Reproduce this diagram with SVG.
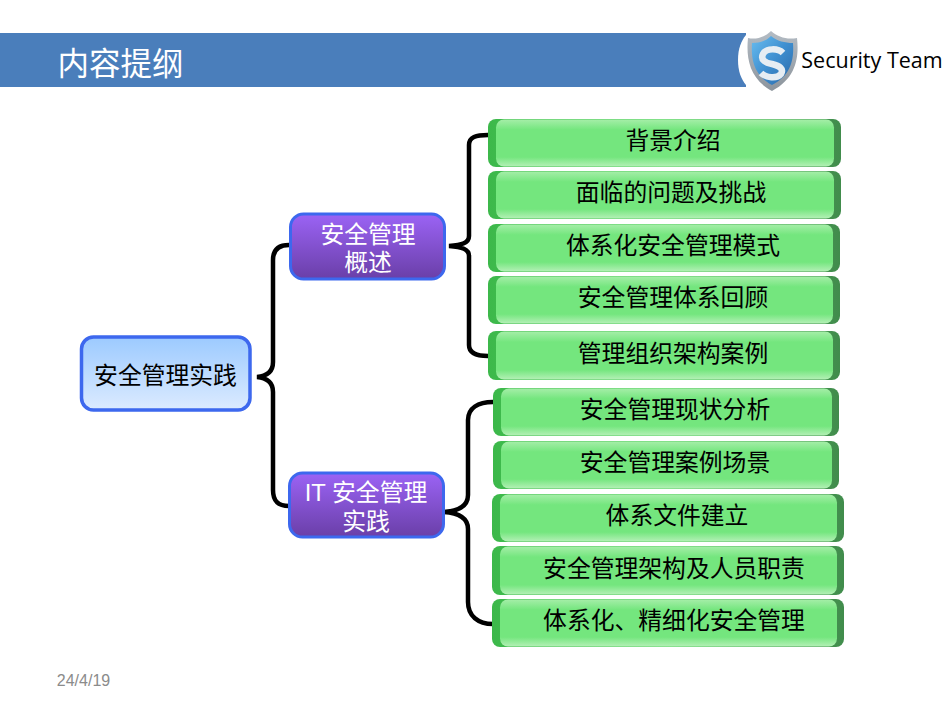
<svg xmlns="http://www.w3.org/2000/svg" width="950" height="713" viewBox="0 0 950 713">
<style>
text{font-family:"Liberation Sans","Noto Sans CJK SC",sans-serif;text-anchor:middle}
.t{font-size:23.800px;fill:#000}
.w{font-size:23.800px;fill:#fff}
.c{fill:none;stroke:#000;stroke-width:4.500;stroke-linecap:butt}
.body{fill:url(#gm)}
</style>
<defs>
<linearGradient id="root" x1="0" y1="0" x2="0" y2="1"><stop offset="0" stop-color="#9ccaff"/><stop offset="1" stop-color="#dcebff"/></linearGradient>
<linearGradient id="pur" x1="0" y1="0" x2="0" y2="1"><stop offset="0" stop-color="#9b63f5"/><stop offset="1" stop-color="#6a3fa8"/></linearGradient>
<linearGradient id="gm" x1="0" y1="0" x2="0" y2="1"><stop offset="0" stop-color="#a5eea8"/><stop offset=".22" stop-color="#74e67e"/><stop offset=".8" stop-color="#74e67e"/><stop offset="1" stop-color="#b4f0b6"/></linearGradient>
<linearGradient id="edge" x1="0" y1="0" x2="1" y2="0"><stop offset="0" stop-color="#3cb84a"/><stop offset=".5" stop-color="#5fd46a"/><stop offset="1" stop-color="#418c4c"/></linearGradient>
<linearGradient id="sh" x1="0" y1="0" x2="1" y2="1"><stop offset="0" stop-color="#68bdf0"/><stop offset=".5" stop-color="#3f8fd0"/><stop offset="1" stop-color="#2a68a8"/></linearGradient>
<linearGradient id="rim" x1="0" y1="0" x2="0" y2="1"><stop offset="0" stop-color="#b4bcc4"/><stop offset="1" stop-color="#8c949c"/></linearGradient>
</defs>

<g id="header">
<rect x="0" y="33" width="746" height="54" fill="#4a7ebb"/>
<path d="M738 60C738 49 741 41 746 35V85C741 79 738 71 738 60Z" fill="#fff"/>
<text x="120.500" y="75" style="font-size:31.500px;fill:#fff">内容提纲</text>
</g>
<g id="logo">
<path d="M748 38C756 40 765 37 771 31C778 37 787 40 797 38C799 56 797 78 772 91C749 79 746 57 748 38Z" fill="url(#rim)"/>
<path d="M752 43C760 43 766 41 771 36C777 41 785 43 793 43C794 58 792 75 772 85C753 75 751 58 752 43Z" fill="url(#sh)"/>
<path d="M783 53C778 48 766 48 763 54C760 60 766 63 772 64C780 66 784 69 781 74C777 79 766 78 761 73" fill="none" stroke="#e6edf3" stroke-width="6.500" stroke-linecap="butt"/>
<text x="872" y="68" style="font-family:'Open Sans',sans-serif;font-size:21.500px;fill:#000">Security Team</text>
</g>

<g id="connectors">
<path class="c" d="M289 245C278 245 273 250 273 260V362C273 371 268 376 257 377C268 378 273 383 273 392V490C273 501 278 506 289 506"/>
<path class="c" d="M488 135C476 135 469 137 469 145V236C469 243 462 245 449 246C462 247 469 249 469 256V345C469 353 476 356 488 356"/>
<path class="c" d="M493 402C478 402 468 408 468 420V495C468 506 459 511 444 512C459 513 468 518 468 529V602C468 616 478 624 493 624"/>
</g>

<g id="root-node">
<rect x="81.500" y="337" width="168.500" height="73" rx="12" fill="url(#root)" stroke="#3d68ee" stroke-width="3.500"/>
<text class="t" x="165.500" y="384">安全管理实践</text>
</g>
<g id="n-overview">
<rect x="290.500" y="214" width="154" height="65" rx="13" fill="url(#pur)" stroke="#3d68ee" stroke-width="3"/>
<text class="w" x="368" y="242.500">安全管理</text>
<text class="w" x="368" y="270.500">概述</text>
</g>
<g id="n-practice">
<rect x="289.500" y="473" width="154" height="64" rx="13" fill="url(#pur)" stroke="#3d68ee" stroke-width="3"/>
<text class="w" x="366" y="501">IT 安全管理</text>
<text class="w" x="366" y="530">实践</text>
</g>

<g id="n1"><rect x="488" y="119" width="353" height="48" rx="8" fill="url(#edge)"/><rect x="496" y="119.500" width="338" height="47" rx="8" class="body"/><text class="t" x="673" y="149">背景介绍</text></g>
<g id="n2"><rect x="488" y="171" width="353" height="48" rx="8" fill="url(#edge)"/><rect x="496" y="171.500" width="338" height="47" rx="8" class="body"/><text class="t" x="671" y="201">面临的问题及挑战</text></g>
<g id="n3"><rect x="488" y="224" width="352" height="48" rx="8" fill="url(#edge)"/><rect x="496" y="224.500" width="337" height="47" rx="8" class="body"/><text class="t" x="673" y="254">体系化安全管理模式</text></g>
<g id="n4"><rect x="488" y="276" width="352" height="48" rx="8" fill="url(#edge)"/><rect x="496" y="276.500" width="337" height="47" rx="8" class="body"/><text class="t" x="673" y="306">安全管理体系回顾</text></g>
<g id="n5"><rect x="488" y="331" width="352" height="49" rx="8" fill="url(#edge)"/><rect x="496" y="331.500" width="337" height="48" rx="8" class="body"/><text class="t" x="673" y="361.500">管理组织架构案例</text></g>
<g id="n6"><rect x="493" y="388" width="346" height="48" rx="8" fill="url(#edge)"/><rect x="501" y="388.500" width="331" height="47" rx="8" class="body"/><text class="t" x="675" y="418">安全管理现状分析</text></g>
<g id="n7"><rect x="493" y="441" width="346" height="48" rx="8" fill="url(#edge)"/><rect x="501" y="441.500" width="331" height="47" rx="8" class="body"/><text class="t" x="675" y="471">安全管理案例场景</text></g>
<g id="n8"><rect x="492" y="494" width="352" height="48" rx="8" fill="url(#edge)"/><rect x="500" y="494.500" width="337" height="47" rx="8" class="body"/><text class="t" x="677" y="524">体系文件建立</text></g>
<g id="n9"><rect x="492" y="546" width="352" height="49" rx="8" fill="url(#edge)"/><rect x="500" y="546.500" width="337" height="48" rx="8" class="body"/><text class="t" x="674" y="576.500">安全管理架构及人员职责</text></g>
<g id="n10"><rect x="492" y="599" width="352" height="48" rx="8" fill="url(#edge)"/><rect x="500" y="599.500" width="337" height="47" rx="8" class="body"/><text class="t" x="674" y="629">体系化、精细化安全管理</text></g>

<text x="83.500" y="686" style="font-size:16px;fill:#8b8b8b">24/4/19</text>
</svg>
